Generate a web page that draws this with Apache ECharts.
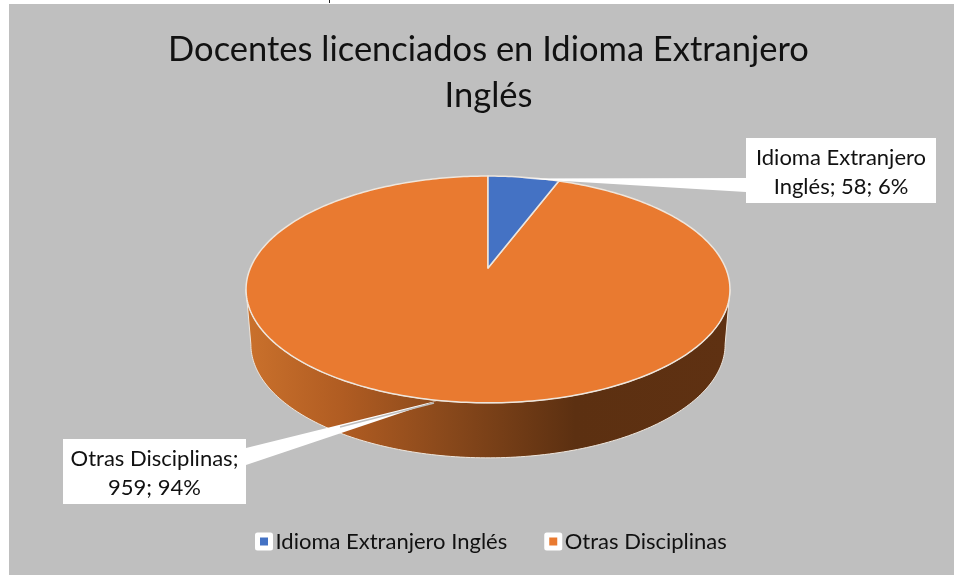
<!DOCTYPE html>
<html>
<head>
<meta charset="utf-8">
<style>html,body{margin:0;padding:0;background:#fff}#c{width:954px;height:575px}</style>
<script src="https://cdn.jsdelivr.net/npm/echarts@6/dist/echarts.min.js"></script>
</head>
<body>
<div id="c"></div>
<script>
const titleText = 'Docentes licenciados en Idioma Extranjero\nInglés';
const categories = ['Idioma Extranjero Inglés', 'Otras Disciplinas'];
const values = [58, 959];
const percents = [6, 94];
const sliceColors = ['#4472c4', '#e97a30'];
const labelBreakAt = [17, 18];

const FONT = 'Lato, "Open Sans", sans-serif';
const total = values.reduce((a, b) => a + b, 0);
const cumulative = values.map((_, i) => values.slice(0, i).reduce((a, b) => a + b, 0));

// Perspective projection of the pie disc (angle clockwise from the top).
const APEX_X = 488, APEX_Y = 268, SCALE_X = 237.6, DEPTH_A = -58.7, PERSP = 0.189;
function project(deg, drop, shrink) {
  const t = deg * Math.PI / 180, u = Math.sin(t), v = Math.cos(t), d = 1 + PERSP * v;
  return [APEX_X + shrink * SCALE_X * u / d, (APEX_Y + DEPTH_A * v) / d + drop];
}
function arc(from, to, drop, shrink) {
  const pts = [], n = Math.max(2, Math.ceil(Math.abs(to - from)));
  for (let i = 0; i <= n; i++) pts.push(project(from + (to - from) * i / n, drop, shrink));
  return pts;
}
const WALL_DROP = 55, WALL_SHRINK = 0.98;
const FRONT_FROM = 100.9, FRONT_TO = 259.1;
const wallFill = {
  type: 'linear', global: true, x: 246, y: 0, x2: 730, y2: 0,
  colorStops: [
    { offset: 0, color: '#ca712c' },
    { offset: 0.2, color: '#b05c22' },
    { offset: 0.42, color: '#88481b' },
    { offset: 0.68, color: '#5c3011' },
    { offset: 1, color: '#5f3112' }
  ]
};
const EDGE = '#eee6dd';

function sliceRenderer(i) {
  return function () {
    const a0 = cumulative[i] / total * 360, a1 = (cumulative[i] + values[i]) / total * 360;
    const children = [];
    const w0 = Math.max(a0, FRONT_FROM), w1 = Math.min(a1, FRONT_TO);
    if (w1 > w0) {
      children.push({
        type: 'polygon',
        shape: { points: arc(w0, w1, 0, 1).concat(arc(w1, w0, WALL_DROP, WALL_SHRINK)) },
        style: { fill: wallFill, stroke: EDGE, lineWidth: 1 }
      });
    }
    children.push({
      type: 'polygon',
      shape: { points: [[APEX_X, APEX_Y]].concat(arc(a0, a1, 0, 1)) },
      style: { fill: sliceColors[i], stroke: EDGE, lineWidth: 1.5, lineJoin: 'round' }
    });
    return { type: 'group', children };
  };
}

const labelBoxes = [
  { x: 746, y: 138, w: 190, h: 65, dy: 2, wedge: [[746, 178], [746, 192], [522, 178.5]], sliver: null },
  { x: 63, y: 439, w: 183, h: 65, dy: 2, wedge: [[246, 448], [246, 465], [438, 400.5]], sliver: [[434, 403], [340, 427]] }
];
function labelRenderer(params) {
  const i = params.dataIndex, b = labelBoxes[i];
  const full = categories[i] + '; ' + values[i] + '; ' + percents[i] + '%';
  const children = [
    { type: 'polygon', shape: { points: b.wedge }, style: { fill: '#fff' } }
  ];
  if (b.sliver) children.push({ type: 'polyline', shape: { points: b.sliver }, style: { stroke: '#bfbfbf', lineWidth: 1.5, fill: null } });
  children.push(
    { type: 'rect', shape: { x: b.x, y: b.y, width: b.w, height: b.h }, style: { fill: '#fff' } },
    {
      type: 'text',
      style: {
        x: b.x + b.w / 2, y: b.y + b.h / 2 + b.dy,
        text: full.slice(0, labelBreakAt[i]) + '\n' + full.slice(labelBreakAt[i] + 1),
        align: 'center', verticalAlign: 'middle',
        fill: '#111', font: '22px ' + FONT, lineHeight: 29
      }
    }
  );
  return { type: 'group', children };
}

const chart = echarts.init(document.getElementById('c'), null, { renderer: 'canvas' });
chart.setOption({
  animation: false,
  backgroundColor: '#ffffff',
  graphic: [
    { type: 'rect', z: -10, shape: { x: 9, y: 4, width: 945, height: 571 }, style: { fill: '#bfbfbf' } },
    { type: 'line', z: -10, shape: { x1: 329.5, y1: 0, x2: 329.5, y2: 3 }, style: { stroke: '#222', lineWidth: 1 } }
  ],
  title: {
    text: titleText, left: 488.5, top: 27, padding: 0, textAlign: 'center',
    textStyle: { fontFamily: FONT, fontSize: 34.5, fontWeight: 'normal', color: '#111', lineHeight: 46 }
  },
  legend: {
    data: categories, left: 255, top: 530.5, padding: 0, itemWidth: 13, itemHeight: 13, itemGap: 37, icon: 'rect',
    itemStyle: { borderColor: '#fff', borderWidth: 5, borderJoin: 'round' },
    textStyle: { fontFamily: FONT, fontSize: 22, color: '#111' }
  },
  series: [
    ...categories.map((name, i) => ({
      type: 'custom', name, coordinateSystem: 'none', z: 2,
      itemStyle: { color: sliceColors[i] },
      data: [values[i]], renderItem: sliceRenderer(i)
    })).reverse(),
    { type: 'custom', name: 'labels', coordinateSystem: 'none', z: 5, silent: true, data: values, renderItem: labelRenderer }
  ]
});
</script>
</body>
</html>
